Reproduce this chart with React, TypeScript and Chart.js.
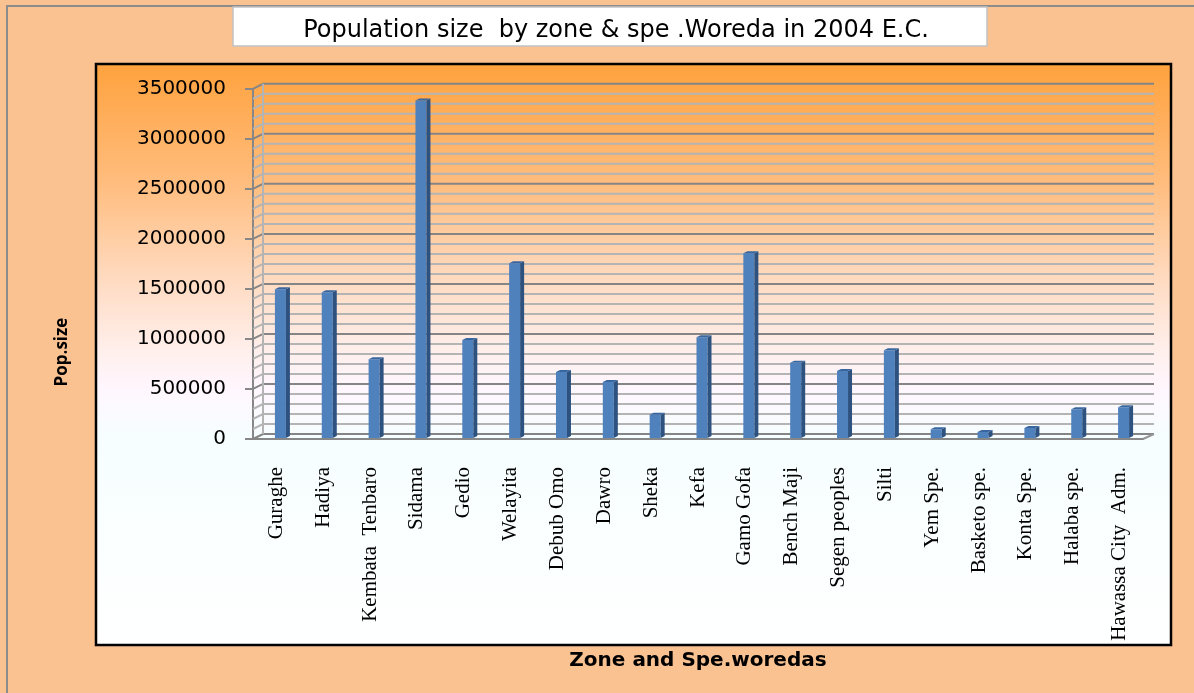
import React, { useEffect, useRef } from "react";
import { Chart, registerables } from "chart.js";

Chart.register(...registerables);

const categories = [
  "Guraghe",
  "Hadiya",
  "Kembata  Tenbaro",
  "Sidama",
  "Gedio",
  "Welayita",
  "Debub Omo",
  "Dawro",
  "Sheka",
  "Kefa",
  "Gamo Gofa",
  "Bench Maji",
  "Segen peoples",
  "Silti",
  "Yem Spe.",
  "Basketo spe.",
  "Konta Spe.",
  "Halaba spe.",
  "Hawassa City  Adm.",
];

const populations = [
  1497000, 1467000, 797000, 3383000, 990000, 1757000, 670000, 570000, 243000,
  1017000, 1857000, 763000, 680000, 887000, 97000, 70000, 110000, 297000, 317000,
];

const yMin = 0;
const yMax = 3500000;
const yMajorStep = 500000;
const yMinorStep = 100000;

const chartTitle = "Population size  by zone & spe .Woreda in 2004 E.C.";
const xAxisTitle = "Zone and Spe.woredas";
const yAxisTitle = "Pop.size";

// 3D look
const WALL_DX = 10;
const WALL_DY = 5;
const BAR_DX = 4;
const BAR_DY = 2;
const BAR_SHIFT = 4;

const framePlugin = {
  id: "frame3d",
  beforeDraw(chart: any) {
    const { ctx, width, height } = chart;
    ctx.save();
    ctx.fillStyle = "#FAC191";
    ctx.fillRect(0, 0, width, height);
    ctx.strokeStyle = "#8C8C8C";
    ctx.lineWidth = 2;
    ctx.beginPath();
    ctx.moveTo(7, height + 5);
    ctx.lineTo(7, 6);
    ctx.lineTo(width + 5, 6);
    ctx.stroke();
    // title box
    ctx.fillStyle = "#FFFFFF";
    ctx.fillRect(233, 7, 754, 39);
    ctx.strokeStyle = "#C2C2C2";
    ctx.lineWidth = 1.5;
    ctx.strokeRect(233, 7, 754, 39);
    // inner plot box
    const g = ctx.createLinearGradient(0, 64, 0, 645);
    g.addColorStop(0, "#FFA23E");
    g.addColorStop(0.2, "#FFBC7C");
    g.addColorStop(0.38, "#FFDCC4");
    g.addColorStop(0.5, "#FFF0EE");
    g.addColorStop(0.56, "#FFF6FE");
    g.addColorStop(0.64, "#F6FEFF");
    g.addColorStop(1, "#FFFFFF");
    ctx.fillStyle = g;
    ctx.fillRect(96, 64, 1075, 581);
    ctx.strokeStyle = "#000000";
    ctx.lineWidth = 2.5;
    ctx.strokeRect(96, 64, 1075, 581);
    // y axis title, centred on the inner box, left of it
    ctx.translate(62, 352);
    ctx.rotate(-Math.PI / 2);
    ctx.fillStyle = "#000000";
    ctx.font = "bold 17px 'Open Sans'";
    ctx.textAlign = "center";
    ctx.textBaseline = "middle";
    ctx.fillText(yAxisTitle, 0, 0);
    ctx.restore();
  },
  beforeDatasetsDraw(chart: any) {
    const { ctx, chartArea, scales } = chart;
    const y = scales.y;
    ctx.save();
    ctx.lineWidth = 2;
    for (let v = yMin; v <= yMax; v += yMinorStep) {
      const py = y.getPixelForValue(v);
      const major = v % yMajorStep === 0;
      ctx.strokeStyle = major ? "#858585" : "#B4B4B4";
      ctx.beginPath();
      ctx.moveTo(chartArea.left, py);
      ctx.lineTo(chartArea.left + WALL_DX, py - WALL_DY);
      ctx.lineTo(chartArea.right + WALL_DX + 1, py - WALL_DY);
      ctx.stroke();
    }
    const base = y.getPixelForValue(yMin);
    const top = y.getPixelForValue(yMax);
    ctx.strokeStyle = "#B4B4B4";
    ctx.beginPath();
    ctx.moveTo(chartArea.left + WALL_DX, top - WALL_DY);
    ctx.lineTo(chartArea.left + WALL_DX, base - WALL_DY);
    ctx.stroke();
    ctx.strokeStyle = "#969696";
    ctx.beginPath();
    ctx.moveTo(chartArea.right, base);
    ctx.lineTo(chartArea.right + WALL_DX + 1, base - WALL_DY);
    ctx.stroke();
    ctx.restore();
    ctx.save();
    ctx.translate(BAR_SHIFT, 0);
  },
  afterDatasetsDraw(chart: any) {
    const { ctx } = chart;
    const meta = chart.getDatasetMeta(0);
    meta.data.forEach((el: any) => {
      const { x, y, base, width } = el.getProps(["x", "y", "base", "width"], true);
      const l = x - width / 2;
      const r = x + width / 2;
      ctx.fillStyle = "#2E527F";
      ctx.beginPath();
      ctx.moveTo(r, y);
      ctx.lineTo(r + BAR_DX, y - BAR_DY);
      ctx.lineTo(r + BAR_DX, base - BAR_DY);
      ctx.lineTo(r, base);
      ctx.closePath();
      ctx.fill();
      ctx.fillStyle = "#3A66A0";
      ctx.beginPath();
      ctx.moveTo(l, y);
      ctx.lineTo(l + BAR_DX, y - BAR_DY);
      ctx.lineTo(r + BAR_DX, y - BAR_DY);
      ctx.lineTo(r, y);
      ctx.closePath();
      ctx.fill();
    });
    ctx.restore();
  },
};

export default function App() {
  const canvasRef = useRef<HTMLCanvasElement | null>(null);

  useEffect(() => {
    if (!canvasRef.current) return;
    const chart = new Chart(canvasRef.current, {
      type: "bar",
      data: {
        labels: categories,
        datasets: [
          {
            label: "Population",
            data: populations,
            backgroundColor: "#4F81BD",
            borderWidth: 0,
            barPercentage: 0.235,
            categoryPercentage: 1,
          },
        ],
      },
      options: {
        animation: false,
        responsive: true,
        maintainAspectRatio: false,
        devicePixelRatio: 1,
        layout: { padding: { left: 89, right: 51, top: 0, bottom: 20 } },
        plugins: {
          legend: { display: false },
          tooltip: { enabled: false },
          title: {
            display: true,
            text: chartTitle,
            color: "#000000",
            font: { family: "DejaVu Sans", size: 24, weight: "normal", lineHeight: 1.2 },
            padding: { top: 16, bottom: 44 },
          },
        },
        scales: {
          x: {
            afterFit: (scale: any) => {
              scale.height = 234;
            },
            grid: { display: false },
            border: { display: true, color: "#878787", width: 2 },
            ticks: {
              autoSkip: false,
              minRotation: 90,
              maxRotation: 90,
              padding: 20,
              color: "#000000",
              font: { family: "Liberation Serif", size: 21 },
            },
            title: {
              display: true,
              text: xAxisTitle,
              color: "#000000",
              font: { family: "DejaVu Sans", size: 20, weight: "bold", lineHeight: 1.2 },
              padding: { top: 0, bottom: 0 },
            },
          },
          y: {
            min: yMin,
            max: yMax,
            afterFit: (scale: any) => {
              scale.width = 164;
            },
            grid: {
              drawOnChartArea: false,
              drawTicks: true,
              tickLength: 8,
              color: "#878787",
              lineWidth: 2,
            },
            border: { display: true, color: "#878787", width: 2 },
            ticks: {
              stepSize: yMajorStep,
              padding: 19,
              color: "#000000",
              font: { family: "DejaVu Sans", size: 20 },
              callback: (v: any) => String(v),
            },
            title: { display: false },
          },
        },
      },
      plugins: [framePlugin],
    });
    return () => chart.destroy();
  }, []);

  return (
    <div style={{ position: "fixed", left: 0, top: 0, width: 1194, height: 693 }}>
      <canvas ref={canvasRef} />
    </div>
  );
}
